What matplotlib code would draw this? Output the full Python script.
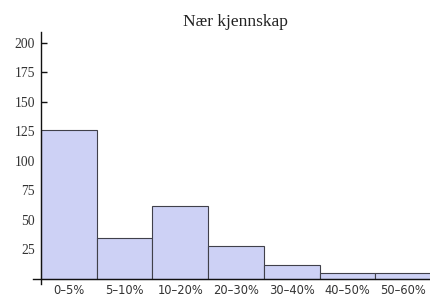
import matplotlib
matplotlib.use("Agg")
import matplotlib.pyplot as plt
import numpy as np

categories = ["0–5%", "5–10%", "10–20%", "20–30%", "30–40%", "40–50%", "50–60%"]
counts = [126, 35, 62, 28, 12, 5, 5]
y_ticks = [25, 50, 75, 100, 125, 150, 175, 200]

BAR_COLOR = "#cdd1f5"
EDGE_COLOR = "#40404a"
TEXT_COLOR = "#333333"

fig = plt.figure(figsize=(4.31, 2.98), dpi=100)
ax = fig.add_axes([33 / 431, 14 / 298, 1 - 33 / 431, 252 / 298])

x = np.arange(len(categories))
ax.bar(x, counts, width=1.0, align="edge", color=BAR_COLOR,
       edgecolor=EDGE_COLOR, linewidth=0.8, zorder=2)

ax.set_xlim(-0.14, 7.0)
ax.set_ylim(-4.2, 209)

for side in ("top", "right"):
    ax.spines[side].set_visible(False)
ax.spines["left"].set_position(("data", 0))
ax.spines["bottom"].set_position(("data", 0))
for side in ("left", "bottom"):
    ax.spines[side].set_linewidth(1.0)
    ax.spines[side].set_color("#111111")
    ax.spines[side].set_zorder(3)

ax.set_xticks(x + 0.5)
ax.set_xticklabels(categories, fontsize=8.3, color=TEXT_COLOR, family="DejaVu Sans")
ax.set_yticks(y_ticks)
ax.set_yticklabels([str(v) for v in y_ticks], fontsize=9.8, color=TEXT_COLOR,
                   family="Liberation Serif")
ax.tick_params(axis="both", direction="in", length=4, width=1.0, color="#111111")
ax.tick_params(axis="x", pad=3.5)
ax.tick_params(axis="y", pad=4)

fig.text(235 / 431, 1 - 22 / 298, "Nær kjennskap", ha="center", va="center",
         fontsize=12.5, family="Liberation Serif", color="#222222")

fig.savefig("out.png", dpi=100)
